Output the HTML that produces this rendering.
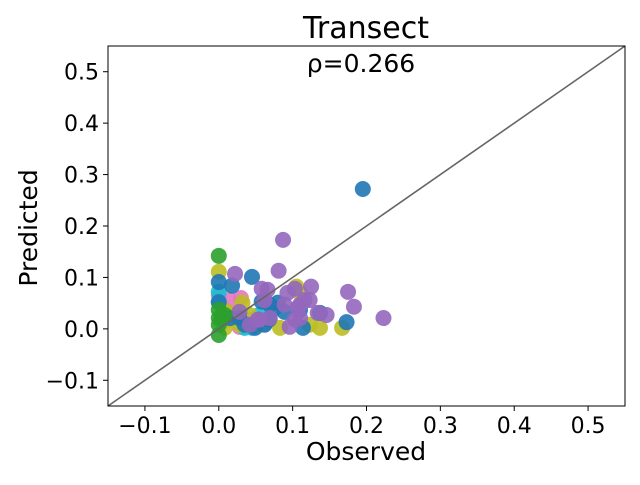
<!DOCTYPE html>
<html><head><meta charset="utf-8"><style>
body{margin:0;background:#fff;}
svg text{font-family:"DejaVu Sans","Liberation Sans",sans-serif;fill:#000;}
</style></head><body>
<svg id="chart" width="640" height="480" xmlns="http://www.w3.org/2000/svg">
<rect width="640" height="480" fill="#fff"/>
<text x="366" y="38" font-size="30" text-anchor="middle">Transect</text>
<g id="marks"></g>
<g id="axes"></g>
<text x="361" y="72" font-size="25" text-anchor="middle">ρ=0.266</text>
<text x="366" y="460" font-size="25" text-anchor="middle">Observed</text>
<text x="37" y="228" font-size="25" text-anchor="middle" transform="rotate(-90 37 228)">Predicted</text>
</svg>
<script>
const xTicks=[-0.1,0.0,0.1,0.2,0.3,0.4,0.5];
const yTicks=[-0.1,0.0,0.1,0.2,0.3,0.4,0.5];
const seriesNames=["pink","cyan","olive","blue","purple","green"];
const seriesColors=["#e377c2","#17becf","#bcbd22","#1f77b4","#9467bd","#2ca02c"];
const pinkPts=[[0.030,0.060],[0.015,0.056],[0.028,0.004],[0.062,0.010],[0.008,0.037],[0.042,0.018],[0.018,0.027],[0,0.065]];
const cyanPts=[[0,0.072],[0,0.052],[0.015,0.018],[0.049,0.008],[0.035,0.002],[0.055,0.027],[0.069,0.018],[0.045,0.002]];
const olivePts=[[0,0.111],[0.167,0.002],[0.137,0.002],[0.110,0.070],[0.032,0.051],[0.015,0.018],[0.008,0.002],[0.028,0.008],[0.083,0.002],[0.055,0.008],[0.123,0.008],[0.042,0.027],[0.007,0.037],[0.02,0.03],[0.025,0.02],[0.105,0.082]];
const bluePts=[[0.195,0.272],[0.045,0.101],[0.018,0.084],[0,0.091],[0,0.052],[0.173,0.013],[0.114,0.002],[0.137,0.031],[0.058,0.053],[0.069,0.047],[0.080,0.051],[0.089,0.033],[0.110,0.037],[0.028,0.021],[0.049,0.002],[0.062,0.008],[0.035,0.008],[0.015,0.021],[0.068,0.018],[0.075,0.04]];
const purplePts=[[0.087,0.173],[0.081,0.113],[0.022,0.107],[0.175,0.072],[0.183,0.043],[0.223,0.021],[0.058,0.078],[0.066,0.076],[0.103,0.078],[0.125,0.082],[0.107,0.041],[0.116,0.056],[0.134,0.031],[0.146,0.027],[0.096,0.004],[0.103,0.018],[0.110,0.021],[0.055,0.018],[0.069,0.021],[0.093,0.070],[0.110,0.047],[0.123,0.056],[0.089,0.047],[0.028,0.033],[0.042,0.008],[0.053,0.018],[0.062,0.056]];
const greenPts=[[0,0.142],[0,-0.012],[0,0.021],[0.004,0.021],[0,0.008],[0.008,0.027],[0,0.037]];
const allSeries=[pinkPts,cyanPts,olivePts,bluePts,purplePts,greenPts];
const L=108,R=625,T=46,B=406,xmin=-0.15,xmax=0.55,ymin=-0.15,ymax=0.55;
const sx=v=>L+(v-xmin)/(xmax-xmin)*(R-L);
const sy=v=>B-(v-ymin)/(ymax-ymin)*(B-T);
const NS="http://www.w3.org/2000/svg";
const marks=document.getElementById('marks'),axes=document.getElementById('axes');
function mk(tag,attrs,parent){const e=document.createElementNS(NS,tag);for(const k in attrs)e.setAttribute(k,attrs[k]);parent.appendChild(e);return e;}
const line=mk('line',{x1:sx(xmin),y1:sy(ymin),x2:sx(xmax),y2:sy(ymax),stroke:'#666',"stroke-width":1.6},axes);


allSeries.forEach((pts,si)=>{
  pts.forEach((p,i)=>{
    const c=mk('circle',{cx:sx(p[0]),cy:sy(p[1]),r:8,fill:seriesColors[si],"fill-opacity":0.9},marks);
    
    
  });
});
const frame=mk('rect',{x:L,y:T,width:R-L,height:B-T,fill:'none',stroke:'#000',"stroke-width":1},axes);


const fmt=v=>(v<0?'\u2212':'')+Math.abs(v).toFixed(1);
xTicks.forEach(v=>{
  const x=sx(v);
  const t=mk('line',{x1:x,y1:B,x2:x,y2:B+5,stroke:'#000'},axes);
  
  
  const tx=mk('text',{x:x,y:B+27,"font-size":22,"text-anchor":"middle"},axes);tx.textContent=fmt(v);
  
  
});
yTicks.forEach(v=>{
  const y=sy(v);
  const t=mk('line',{x1:L-5,y1:y,x2:L,y2:y,stroke:'#000'},axes);
  
  
  const tx=mk('text',{x:L-9,y:y+8,"font-size":22,"text-anchor":"end"},axes);tx.textContent=fmt(v);
  
  
});
</script>
</body></html>
